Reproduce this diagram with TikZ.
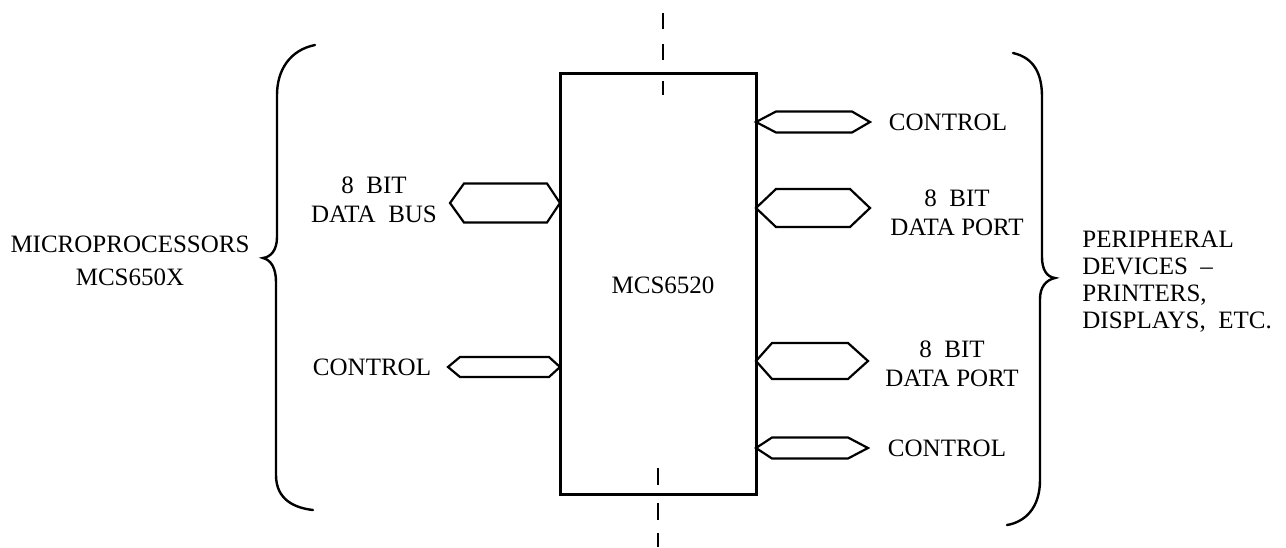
\documentclass[tikz,border=0pt]{standalone}
\usepackage{fontspec}
\setmainfont{Liberation Serif}
\newcommand\busarrow[6]{% xL xR y h tipL tipR
  \draw[busline] (#1,#3) -- (#1+#5,#3-#4) -- (#2-#6,#3-#4) -- (#2,#3)
    -- (#2-#6,#3+#4) -- (#1+#5,#3+#4) -- cycle;}
\begin{document}
\begin{tikzpicture}[x=0.5pt,y=-0.5pt,
  lbl/.style={font=\fontsize{12.5}{14.5}\selectfont, inner sep=0pt, align=center},
  busline/.style={line width=1.1pt, line join=miter},
  bracestyle/.style={line width=1.2pt, line cap=round},
  centre/.style={line width=0.8pt},
  chipbox/.style={draw, line width=1.5pt, minimum width=98pt, minimum height=210.5pt,
    inner sep=0pt, font=\fontsize{12.5}{14.5}\selectfont}]
\useasboundingbox (0,0) rectangle (1286,547);

% centre line (dashed)
\foreach \a/\b in {13/29,44/60,81/95}{\draw[centre] (663,\a) -- (663,\b);}
\foreach \a/\b in {468/485,503/520,533/547}{\draw[centre] (658,\a) -- (658,\b);}

% chip
\node[chipbox] (chip) at (658,283.5) {};
\node[lbl] (chiplbl) at (663,285) {MCS6520};

% bus arrows
\busarrow{450}{560}{203}{19.5}{14}{13}
\busarrow{448}{560}{367}{10}{12}{11}
\busarrow{756}{870}{122}{10.5}{20}{18}
\busarrow{756}{870}{208}{19}{20}{20}
\busarrow{756}{868}{361}{18}{16}{20}
\busarrow{756}{868}{448}{10.5}{16}{20}

% labels
\node[lbl] (busl) at (374,200) {8~~BIT\\DATA~~BUS};
\node[lbl] (ctl) at (372,367) {CONTROL};
\node[lbl] (ctr1) at (948,122) {CONTROL};
\node[lbl] (port1) at (957,212.5) {8~~BIT\\DATA PORT};
\node[lbl] (port2) at (952,364) {8~~BIT\\DATA PORT};
\node[lbl] (ctr2) at (947,448) {CONTROL};

\node[lbl, font=\fontsize{12.5}{16.5}\selectfont] (micro) at (130,261) {MICROPROCESSORS\\MCS650X};
\node[lbl, align=left, anchor=north west, font=\fontsize{12.5}{13.35}\selectfont] (periph) at (1082,231)
  {PERIPHERAL\\DEVICES~~--\\PRINTERS,\\DISPLAYS,~~ETC.};

% left brace
\draw[bracestyle] (315,45) .. controls (290,50) and (277,70) .. (277,95)
  -- (277,237) .. controls (277,250) and (271,257) .. (263,258)
  .. controls (271,260) and (276,268) .. (276,282)
  -- (276,475) .. controls (276,500) and (295,508) .. (313,510);

% right brace
\draw[bracestyle] (1013,53) .. controls (1035,58) and (1042,75) .. (1042,97)
  -- (1042,257) .. controls (1042,270) and (1047,277) .. (1055,278)
  .. controls (1046,280) and (1040,287) .. (1040,299)
  -- (1040,480) .. controls (1040,508) and (1025,522) .. (1007,525);
\end{tikzpicture}
\end{document}
